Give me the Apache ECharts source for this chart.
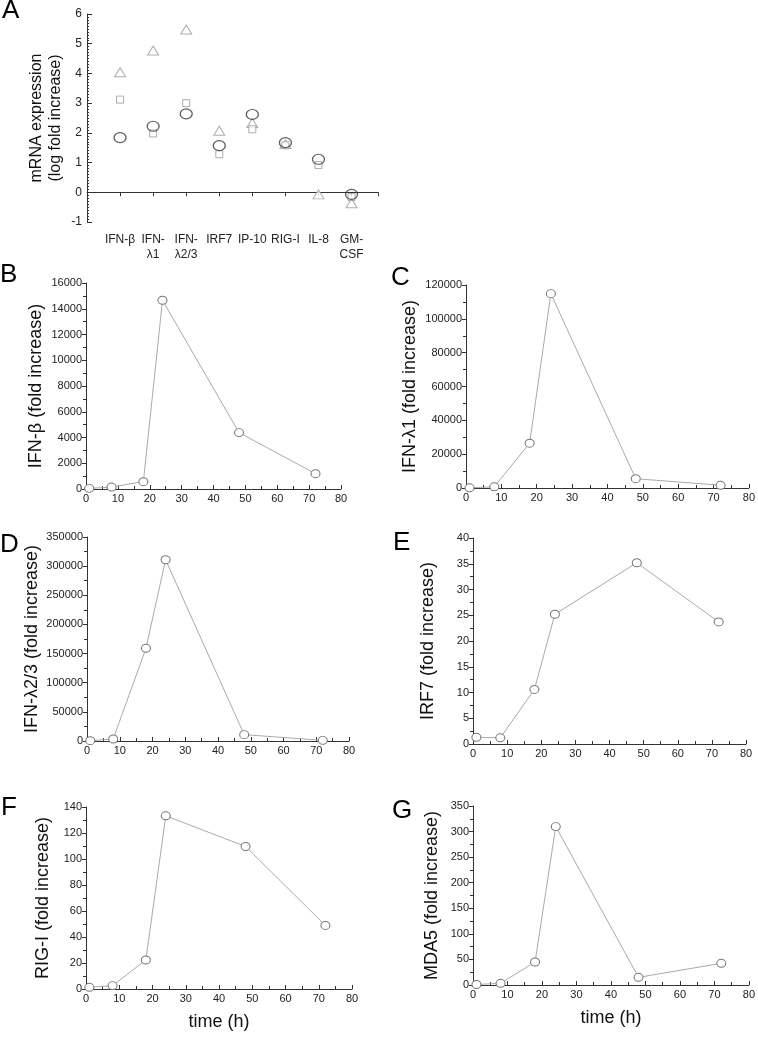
<!DOCTYPE html>
<html>
<head>
<meta charset="utf-8">
<script src="https://cdn.jsdelivr.net/npm/echarts@6/dist/echarts.min.js"></script>
<style>
html,body{margin:0;padding:0;background:#fff;}
#chart{width:758px;height:1050px;}
</style>
</head>
<body>
<div id="chart"></div>
<script>
// Panel A data
const genes = ['IFN-β', 'IFN-\nλ1', 'IFN-\nλ2/3', 'IRF7', 'IP-10', 'RIG-I', 'IL-8', 'GM-\nCSF'];
const circleVals = [1.84, 2.22, 2.64, 1.57, 2.62, 1.67, 1.11, -0.07];
const squareVals = [3.12, 1.98, 3.00, 1.28, 2.12, 1.58, 0.92, -0.16];
const triangleVals = [4.04, 4.77, 5.48, 2.07, 2.33, 1.62, -0.07, -0.37];

// Time course data
const timeH = [1, 8, 18, 24, 48, 72];
const ifnB = [50, 150, 570, 14660, 4380, 1190];
const ifnL1 = [100, 700, 26500, 114900, 5500, 1600];
const ifnL23 = [500, 3400, 159000, 311000, 10900, 1100];
const irf7 = [1.3, 1.2, 10.6, 25.2, 35.2, 23.7];
const rigI = [1.3, 2.6, 22.3, 133.2, 109.6, 48.9];
const mda5 = [1, 3.3, 45, 309.7, 15, 42.4];

const FONT = '"Liberation Sans", Arial, Helvetica, sans-serif';
const AX = '#333';

const grids = [];
const xAxes = [];
const yAxes = [];
const series = [];

// Panel A
grids.push({left: 87, top: 14, width: 291, height: 208});
xAxes.push({
  type: 'value', gridIndex: 0, min: 0, max: 8.8, interval: 1,
  splitLine: {show: false},
  axisLine: {lineStyle: {color: AX}},
  axisTick: {inside: false, length: 4, lineStyle: {color: AX}},
  axisLabel: {
    color: '#222', fontFamily: FONT, fontSize: 12, margin: 10, lineHeight: 15,
    formatter: v => (Number.isInteger(v) && v >= 1 && v <= genes.length) ? genes[v - 1] : ''
  }
});
yAxes.push({
  type: 'value', gridIndex: 0, min: -1, max: 6, interval: 1,
  splitLine: {show: false},
  axisLine: {show: true, lineStyle: {color: AX}},
  axisTick: {inside: true, length: 5, lineStyle: {color: AX}},
  minorTick: {show: true, splitNumber: 10, length: 2, lineStyle: {color: AX}},
  axisLabel: {color: '#222', fontFamily: FONT, fontSize: 12, margin: 5},
  name: 'mRNA expression\n(log fold increase)', nameLocation: 'middle', nameGap: 22,
  nameTextStyle: {color: '#111', fontFamily: FONT, fontSize: 16, lineHeight: 19, fontWeight: 'normal'}
});
const pos = genes.map((g, i) => i + 1);
series.push({
  type: 'scatter', xAxisIndex: 0, yAxisIndex: 0, symbol: 'triangle', symbolSize: [11, 9],
  itemStyle: {color: '#fff', borderColor: '#999', borderWidth: 1},
  data: pos.map((p, i) => [p, triangleVals[i]]), z: 2
});
series.push({
  type: 'scatter', xAxisIndex: 0, yAxisIndex: 0, symbol: 'rect', symbolSize: 7,
  itemStyle: {color: '#fff', borderColor: '#999', borderWidth: 1},
  data: pos.map((p, i) => [p, squareVals[i]]), z: 3
});
series.push({
  type: 'scatter', xAxisIndex: 0, yAxisIndex: 0, symbol: 'circle', symbolSize: [12, 10],
  itemStyle: {color: 'rgba(255,255,255,0)', borderColor: '#333', borderWidth: 1.2},
  data: pos.map((p, i) => [p, circleVals[i]]), z: 4
});

// Line panels
const panels = [
  {vals: ifnB, name: 'IFN-β (fold increase)', grid: {left: 86, top: 283, width: 255, height: 206}, max: 16000, interval: 2000, gap: 41},
  {vals: ifnL1, name: 'IFN-λ1 (fold increase)', grid: {left: 466, top: 285, width: 285, height: 203}, max: 120000, interval: 20000, gap: 47},
  {vals: ifnL23, name: 'IFN-λ2/3 (fold increase)', grid: {left: 87, top: 537, width: 262, height: 204}, max: 350000, interval: 50000, gap: 46},
  {vals: irf7, name: 'IRF7 (fold increase)', grid: {left: 473, top: 538, width: 273, height: 206}, max: 40, interval: 5, gap: 36},
  {vals: rigI, name: 'RIG-I (fold increase)', grid: {left: 86, top: 807, width: 266, height: 182}, max: 140, interval: 20, gap: 34, xname: true},
  {vals: mda5, name: 'MDA5 (fold increase)', grid: {left: 473, top: 806, width: 278, height: 179}, max: 350, interval: 50, gap: 32, xname: true}
];

panels.forEach((p, k) => {
  const gi = k + 1;
  grids.push(p.grid);
  xAxes.push({
    type: 'value', gridIndex: gi, min: 0, max: 80, interval: 10,
    splitLine: {show: false},
    axisLine: {lineStyle: {color: AX}},
    axisTick: {inside: true, length: 4, lineStyle: {color: AX}},
    minorTick: {show: true, splitNumber: 2, length: 3, lineStyle: {color: AX}},
    axisLabel: {color: '#222', fontFamily: FONT, fontSize: 11, margin: 4, formatter: v => String(v)},
    name: p.xname ? 'time (h)' : '', nameLocation: 'middle', nameGap: 24,
    nameTextStyle: {color: '#111', fontFamily: FONT, fontSize: 18, fontWeight: 'normal', verticalAlign: 'top'}
  });
  yAxes.push({
    type: 'value', gridIndex: gi, min: 0, max: p.max, interval: p.interval,
    splitLine: {show: false},
    axisLine: {show: true, lineStyle: {color: AX}},
    axisTick: {inside: false, length: 4, lineStyle: {color: AX}},
    minorTick: {show: true, splitNumber: 2, length: 3, lineStyle: {color: AX}},
    axisLabel: {color: '#222', fontFamily: FONT, fontSize: 11, margin: 4, formatter: v => String(v)},
    name: p.name, nameLocation: 'middle', nameGap: p.gap,
    nameTextStyle: {color: '#111', fontFamily: FONT, fontSize: 18, fontWeight: 'normal'}
  });
  series.push({
    type: 'line', xAxisIndex: gi, yAxisIndex: gi,
    symbol: 'circle', symbolSize: [9, 8], showAllSymbol: true,
    lineStyle: {color: '#aaa', width: 1},
    itemStyle: {color: '#fff', borderColor: '#777', borderWidth: 1},
    data: timeH.map((t, i) => [t, p.vals[i]])
  });
});

const letters = [
  ['A', 2, -2], ['B', 0, 262], ['C', 391, 265],
  ['D', 0, 532], ['E', 393, 530], ['F', 1, 795], ['G', 392, 798]
];
const graphic = letters.map(l => ({
  type: 'text', left: l[1], top: l[2],
  style: {text: l[0], font: '26px ' + FONT, fill: '#000'}
}));

const chart = echarts.init(document.getElementById('chart'), null, {renderer: 'canvas'});
chart.setOption({
  animation: false,
  backgroundColor: '#fff',
  grid: grids, xAxis: xAxes, yAxis: yAxes, series: series, graphic: graphic
});
</script>
</body>
</html>
